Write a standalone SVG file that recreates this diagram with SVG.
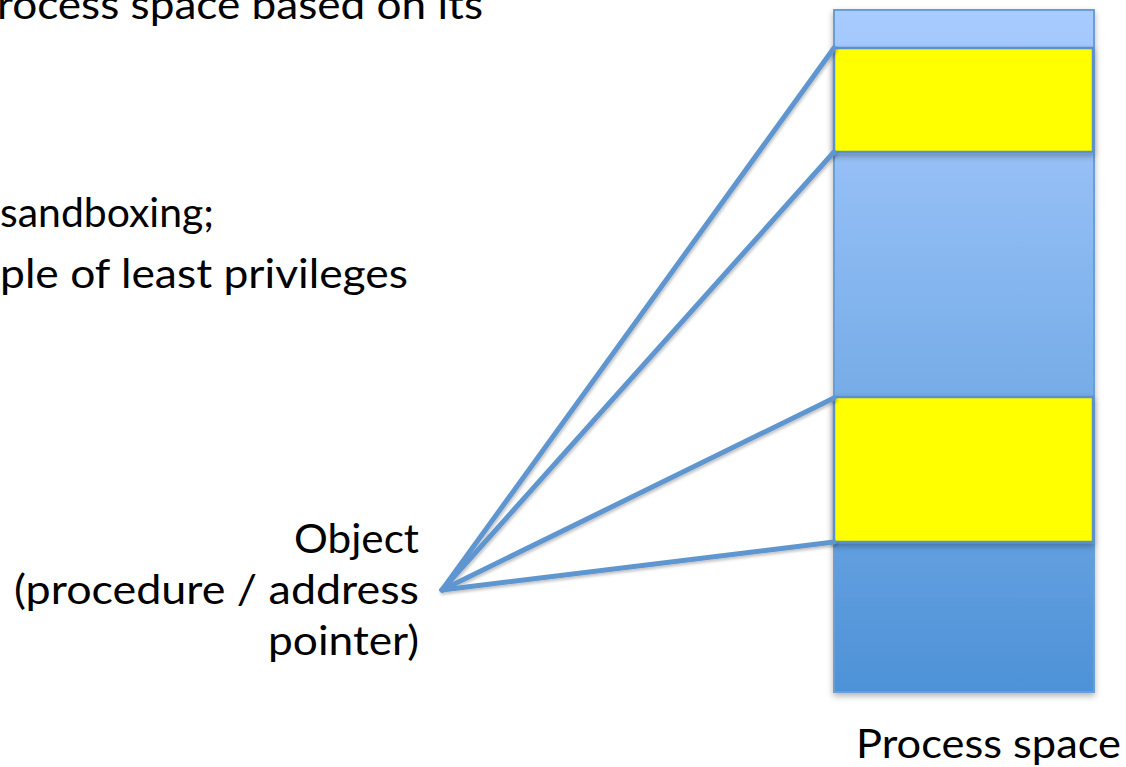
<svg xmlns="http://www.w3.org/2000/svg" width="1126" height="767" viewBox="0 0 1126 767">
<style>
.t{font-family:Lato,"Open Sans","Liberation Sans",sans-serif;font-size:41px;fill:#000}
.r{text-anchor:end}
.conn{stroke:#5e96cf;stroke-width:5;fill:none;stroke-linecap:round}
.mem{stroke:#6a9ed6;stroke-width:2}
.hi{fill:#ffff00;stroke:#5b91cb;stroke-width:2.5}
</style>
<defs>
<linearGradient id="g" x1="0" y1="0" x2="0" y2="1">
<stop offset="0" stop-color="#a9cbff"/>
<stop offset="0.5" stop-color="#7cb0ea"/>
<stop offset="1" stop-color="#4e92d7"/>
</linearGradient>
<filter id="sh" x="-10%" y="-10%" width="120%" height="120%">
<feDropShadow dx="0" dy="3" stdDeviation="3" flood-color="#000" flood-opacity="0.3"/>
</filter>
<filter id="lsh" x="-10%" y="-10%" width="120%" height="120%">
<feDropShadow dx="1" dy="2" stdDeviation="1.5" flood-color="#000" flood-opacity="0.25"/>
</filter>
</defs>
<g id="text">
<text class="t" x="-3" y="19" textLength="486" lengthAdjust="spacingAndGlyphs">rocess space based on its</text>
<text class="t" x="0" y="227" textLength="214" lengthAdjust="spacingAndGlyphs">sandboxing;</text>
<text class="t" x="0" y="288" textLength="408" lengthAdjust="spacingAndGlyphs">ple of least privileges</text>
</g>
<g id="process-space">
<rect class="mem" x="834" y="10" width="260" height="682" fill="url(#g)" filter="url(#sh)"/>
<rect class="hi" x="834" y="48" width="259" height="104" filter="url(#sh)"/>
<rect class="hi" x="834" y="397" width="259" height="145" filter="url(#sh)"/>
<text class="t" x="856" y="758" textLength="265" lengthAdjust="spacingAndGlyphs">Process space</text>
</g>
<g id="object">
<text class="t r" x="419" y="553" textLength="125" lengthAdjust="spacingAndGlyphs">Object</text>
<text class="t r" x="419" y="604" textLength="405" lengthAdjust="spacingAndGlyphs">(procedure / address</text>
<text class="t r" x="419" y="655" textLength="151" lengthAdjust="spacingAndGlyphs">pointer)</text>
</g>
<g id="connectors" filter="url(#lsh)">
<line class="conn" x1="442" y1="590" x2="834" y2="48"/>
<line class="conn" x1="442" y1="590" x2="834" y2="152"/>
<line class="conn" x1="442" y1="590" x2="834" y2="398"/>
<line class="conn" x1="442" y1="590" x2="834" y2="542"/>
</g>
</svg>
